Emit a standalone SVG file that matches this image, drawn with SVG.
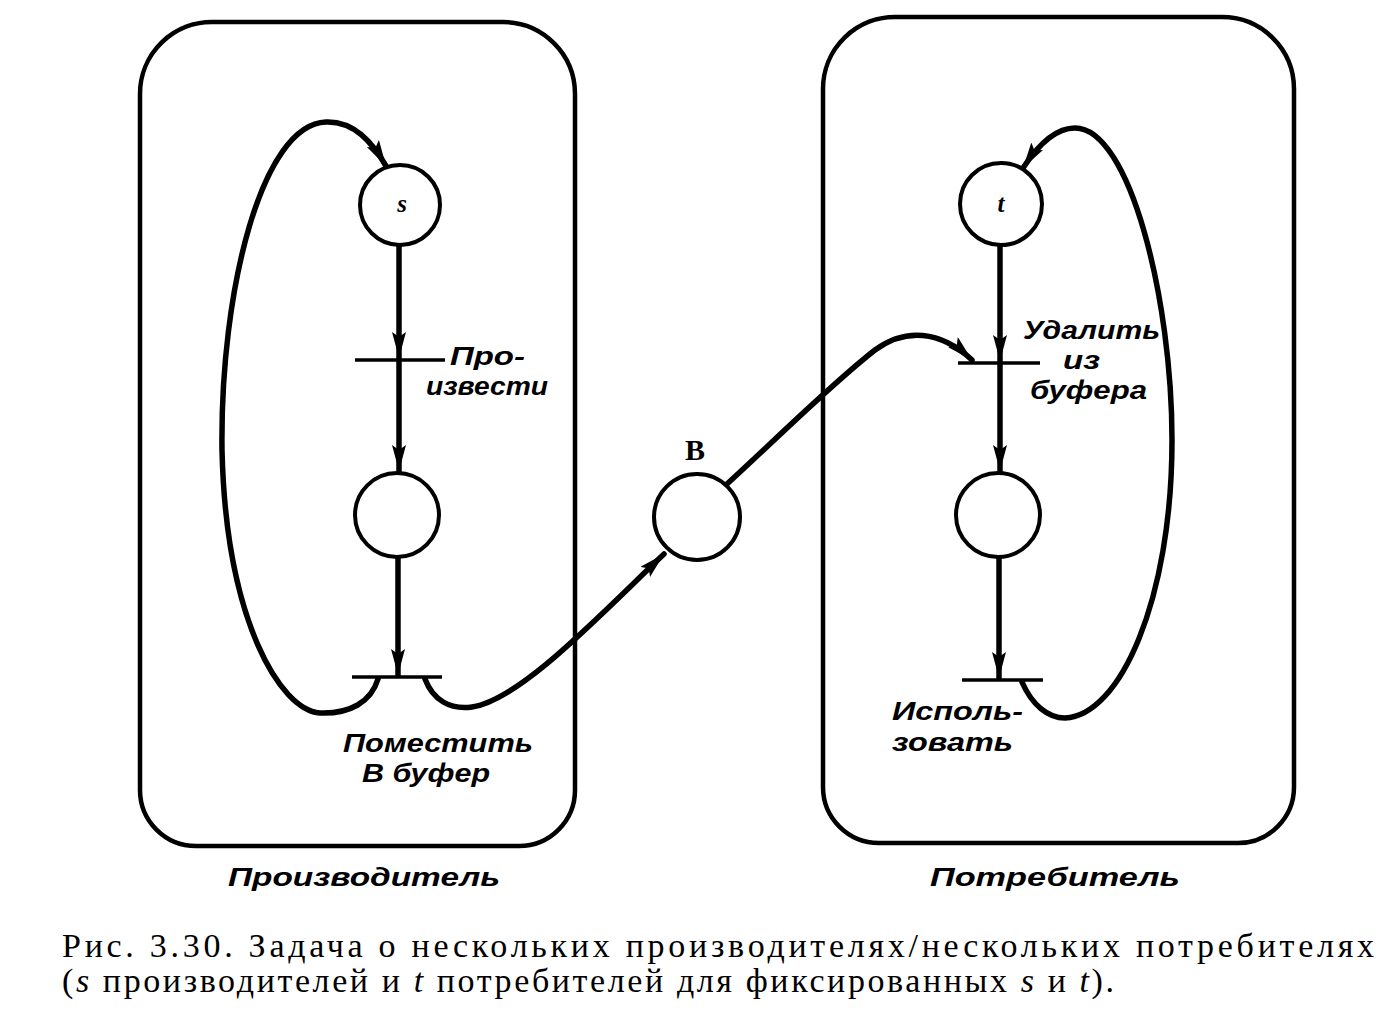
<svg xmlns="http://www.w3.org/2000/svg" width="1387" height="1010" viewBox="0 0 1387 1010">
<style>
.box{fill:none;stroke:#000;stroke-width:4.5}
.place{fill:#fff;stroke:#000;stroke-width:4}
.bar{stroke:#000;stroke-width:3.5;fill:none}
.arc{fill:none;stroke:#000;stroke-width:5.5;stroke-linecap:round}
.lbl{font-family:"Liberation Sans","DejaVu Sans",sans-serif;font-style:italic;font-weight:bold;font-size:26px;fill:#000}
.cap{font-family:"Liberation Serif","DejaVu Serif",serif;font-size:34px;fill:#000}
.pl{font-family:"Liberation Serif","DejaVu Serif",serif;font-style:italic;font-weight:bold;font-size:25px;fill:#000}
</style>
<defs>
<marker id="ah" markerUnits="userSpaceOnUse" markerWidth="28" markerHeight="16" refX="26" refY="7" orient="auto">
<path d="M0,0 L26,7 L0,14 L5,7 z" fill="#000"/>
</marker>
</defs>
<rect width="1387" height="1010" fill="#fff"/>

<g id="producer-box">
<path class="box" d="M214 22 H503 A72 72 0 0 1 575 94 V790 A56 56 0 0 1 519 846 H196 A56 56 0 0 1 140 790 V94 A72 72 0 0 1 214 22 Z"/>
<text class="lbl" x="228" y="886" font-size="31" textLength="272" lengthAdjust="spacingAndGlyphs">Производитель</text>
</g>
<g id="consumer-box">
<path class="box" d="M897 17 H1222 A72 72 0 0 1 1294 89 V787 A56 56 0 0 1 1238 843 H879 A56 56 0 0 1 823 787 V89 A72 72 0 0 1 897 17 Z"/>
<text class="lbl" x="930" y="886" font-size="31" textLength="250" lengthAdjust="spacingAndGlyphs">Потребитель</text>
</g>

<g id="connectors">
<path class="arc" d="M399 246 V358" marker-end="url(#ah)"/>
<path class="arc" d="M399 360 V471" marker-end="url(#ah)"/>
<path class="arc" d="M398 557 V675" marker-end="url(#ah)"/>
<path class="arc" d="M378 679 C371 702 350 714 320 713 C280 710 226 620 222 450 C220 290 262 124 326 122 C354 121 372 142 386 166" marker-end="url(#ah)"/>
<path class="arc" d="M425 679 C433 700 450 710 472 707 C520 700 600 615 664 554" marker-end="url(#ah)"/>
<path class="arc" d="M727 484 C770 445 830 385 875 350 C905 328 940 330 972 360" marker-end="url(#ah)"/>
<path class="arc" d="M1000 246 V361" marker-end="url(#ah)"/>
<path class="arc" d="M1000 363 V471" marker-end="url(#ah)"/>
<path class="arc" d="M999 557 V678" marker-end="url(#ah)"/>
<path class="arc" d="M1022 682 C1032 705 1048 718 1065 718 C1120 716 1172 600 1172 440 C1172 300 1130 128 1075 128 C1055 128 1038 145 1023 168" marker-end="url(#ah)"/>
</g>

<g id="t-produce">
<line class="bar" x1="355" y1="360" x2="445" y2="360"/>
<text class="lbl" x="450" y="365" textLength="75" lengthAdjust="spacingAndGlyphs">Про-</text>
<text class="lbl" x="426" y="395" textLength="122" lengthAdjust="spacingAndGlyphs">извести</text>
</g>
<g id="t-put">
<line class="bar" x1="352" y1="677" x2="442" y2="677"/>
<text class="lbl" x="343" y="752" textLength="190" lengthAdjust="spacingAndGlyphs">Поместить</text>
<text class="lbl" x="362" y="782" textLength="128" lengthAdjust="spacingAndGlyphs">В буфер</text>
</g>
<g id="t-remove">
<line class="bar" x1="958" y1="363" x2="1040" y2="363"/>
<text class="lbl" x="1023" y="339" textLength="137" lengthAdjust="spacingAndGlyphs">Удалить</text>
<text class="lbl" x="1063" y="369" textLength="37" lengthAdjust="spacingAndGlyphs">из</text>
<text class="lbl" x="1030" y="399" textLength="117" lengthAdjust="spacingAndGlyphs">буфера</text>
</g>
<g id="t-use">
<line class="bar" x1="962" y1="680" x2="1043" y2="680"/>
<text class="lbl" x="892" y="720" textLength="131" lengthAdjust="spacingAndGlyphs">Исполь-</text>
<text class="lbl" x="892" y="751" textLength="121" lengthAdjust="spacingAndGlyphs">зовать</text>
</g>

<g id="p-s">
<circle class="place" cx="400" cy="205" r="40"/>
<text class="pl" x="402" y="212" text-anchor="middle">s</text>
</g>
<g id="p-produced">
<circle class="place" cx="397" cy="515" r="42"/>
</g>
<g id="p-buffer">
<circle class="place" cx="697" cy="517" r="43"/>
<text x="695" y="460" text-anchor="middle" font-family="Liberation Serif,serif" font-weight="bold" font-size="30">B</text>
</g>
<g id="p-t">
<circle class="place" cx="1001" cy="204" r="41"/>
<text class="pl" x="1001" y="212" text-anchor="middle">t</text>
</g>
<g id="p-consumed">
<circle class="place" cx="998" cy="515" r="42"/>
</g>

<g id="caption">
<text class="cap" x="62" y="957" textLength="1312" lengthAdjust="spacing">Рис. 3.30. Задача о нескольких производителях/нескольких потребителях</text>
<text class="cap" x="62" y="992" textLength="1052" lengthAdjust="spacing">(<tspan font-style="italic">s</tspan> производителей и <tspan font-style="italic">t</tspan> потребителей для фиксированных <tspan font-style="italic">s</tspan> и <tspan font-style="italic">t</tspan>).</text>
</g>
</svg>
